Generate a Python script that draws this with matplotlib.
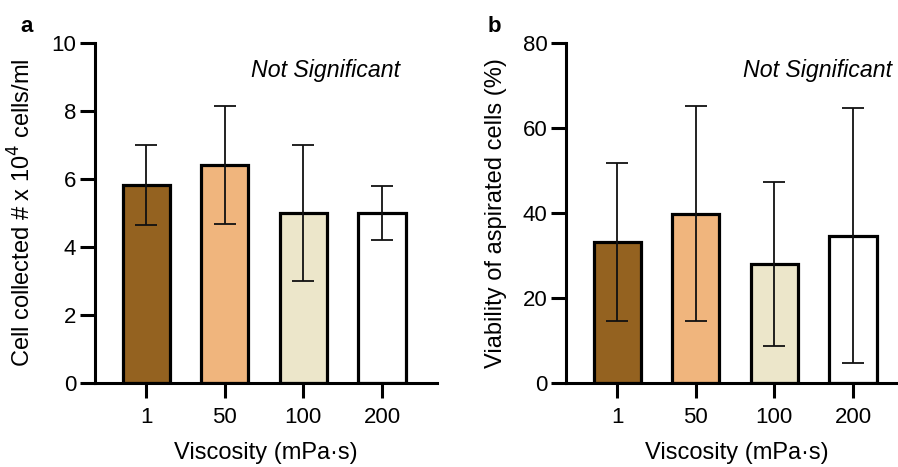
import matplotlib
matplotlib.use("Agg")
import matplotlib.pyplot as plt
import numpy as np

plt.rcParams['font.family'] = ['Liberation Sans', 'DejaVu Sans']

viscosity = ['1', '50', '100', '200']
colors = ['#946220', '#F0B57D', '#ECE6CA', '#FFFFFF']

# cell count (x 10^4 cells/ml), mean and SD
cells_mean = [5.83, 6.42, 5.0, 5.0]
cells_sd = [1.17, 1.73, 2.0, 0.8]

# viability of aspirated cells (%), mean and SD
viab_mean = [33.2, 39.8, 28.0, 34.6]
viab_sd = [18.6, 25.3, 19.4, 30.0]

fig = plt.figure(figsize=(8.98, 4.67), dpi=100)
W, H = 898, 467


def make_axes(left_px):
    return fig.add_axes([left_px / W, (H - 383) / H, 342 / W, 340 / H])


def draw_panel(ax, means, sds, ymax, ystep, ylabel, letter, ns_x, letter_x):
    x = np.arange(len(viscosity))
    ax.bar(x, means, width=0.6, color=colors, edgecolor='black',
           linewidth=2.3, zorder=2)
    ax.errorbar(x, means, yerr=sds, fmt='none', ecolor='#111111',
                elinewidth=1.3, capsize=8, capthick=1.3, zorder=3)
    ax.set_xlim(-0.65, 3.7)
    ax.set_ylim(0, ymax)
    ax.set_yticks(np.arange(0, ymax + 0.1, ystep))
    ax.set_xticks(x)
    ax.set_xticklabels(viscosity)
    for s in ['top', 'right']:
        ax.spines[s].set_visible(False)
    for s in ['left', 'bottom']:
        ax.spines[s].set_linewidth(2.2)
    ax.tick_params(axis='both', length=10.5, width=2.2, labelsize=16,
                   pad=3)
    ax.tick_params(axis='x', pad=7)
    ax.set_xlabel('Viscosity (mPa·s)', fontsize=17, labelpad=10)
    ax.set_ylabel(ylabel, fontsize=17)
    ax.yaxis.set_label_coords(-0.173, 0.5)
    ax.text(ns_x, 0.92, 'Not Significant', transform=ax.transAxes,
            style='italic', fontsize=16.7, ha='right', va='center')
    ax.text(letter_x, 1.05, letter, transform=ax.transAxes,
            fontweight='bold', fontsize=16, ha='left', va='center')


ax1 = make_axes(95)
draw_panel(ax1, cells_mean, cells_sd, 10, 2,
           r'Cell collected # x 10$^4$ cells/ml', 'a', 0.892, -0.219)

ax2 = make_axes(566)
draw_panel(ax2, viab_mean, viab_sd, 80, 20,
           'Viability of aspirated cells (%)', 'b', 0.953, -0.228)

fig.savefig('out.png', dpi=100)
